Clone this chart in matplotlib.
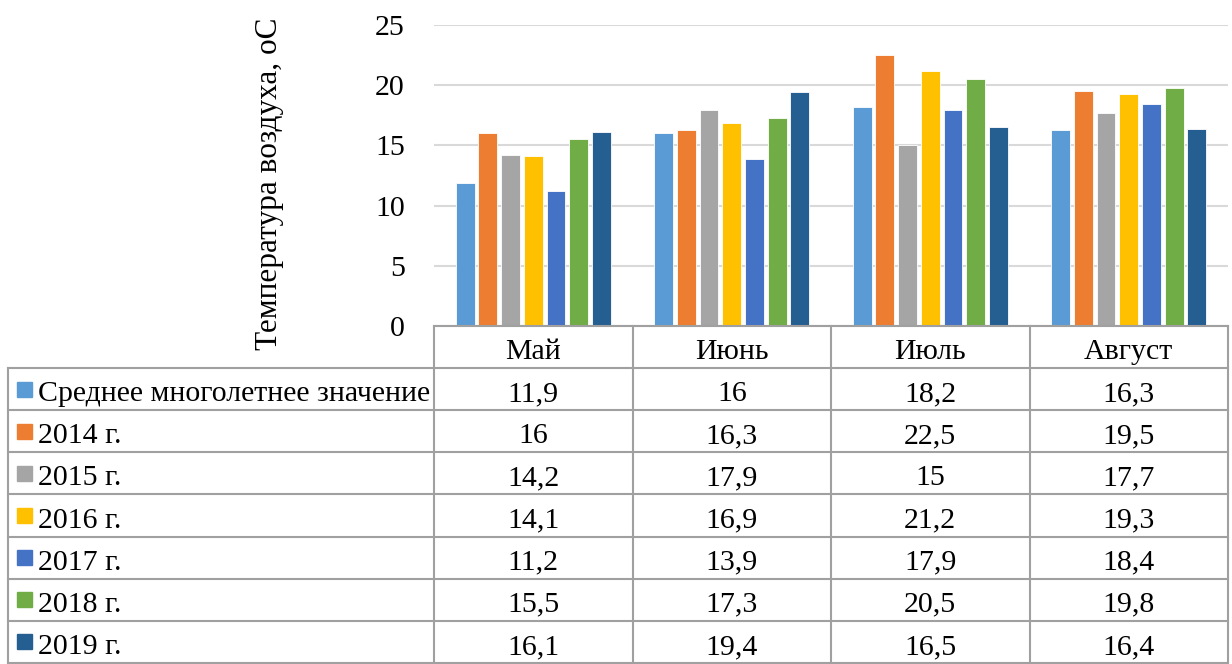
import numpy as np
import matplotlib.pyplot as plt
from matplotlib.patches import Rectangle

plt.rcParams['font.family'] = ['Liberation Serif', 'DejaVu Serif']

months = ['Май', 'Июнь', 'Июль', 'Август']
series = ['Среднее многолетнее значение', '2014 г.', '2015 г.', '2016 г.',
          '2017 г.', '2018 г.', '2019 г.']
avg = [11.9, 16, 18.2, 16.3]
y2014 = [16, 16.3, 22.5, 19.5]
y2015 = [14.2, 17.9, 15, 17.7]
y2016 = [14.1, 16.9, 21.2, 19.3]
y2017 = [11.2, 13.9, 17.9, 18.4]
y2018 = [15.5, 17.3, 20.5, 19.8]
y2019 = [16.1, 19.4, 16.5, 16.4]
values = [avg, y2014, y2015, y2016, y2017, y2018, y2019]
colors = ['#5B9BD5', '#ED7D31', '#A5A5A5', '#FFC000', '#4472C4', '#70AD47', '#255E91']

W, H = 1232, 664
fig = plt.figure(figsize=(W / 100, H / 100), dpi=100)

# plot area in pixels
x0, x1 = 434, 1228
y_top, y_zero = 25, 326
ax = fig.add_axes([x0 / W, 1 - y_zero / H, (x1 - x0) / W, (y_zero - y_top) / H])

x = np.arange(len(months))
slot = 0.8 / len(series)
for i, (vals, c) in enumerate(zip(values, colors)):
    ax.bar(x - 0.4 + slot * (i + 0.5), vals, width=slot * 0.83, color=c,
           edgecolor='white', linewidth=0.6, zorder=3)

ax.set_xlim(-0.5, len(months) - 0.5)
ax.set_ylim(0, 25)
ax.set_yticks(range(0, 26, 5))
ax.yaxis.grid(True, color='#d9d9d9', linewidth=1.5, zorder=0)
ax.set_xticks([])
for s in ax.spines.values():
    s.set_visible(False)
ax.tick_params(axis='y', length=0, labelsize=21.5, pad=21)

fig.text(270 / W, 1 - 184 / H, 'Температура воздуха, оС', rotation=90,
         ha='center', va='center', fontsize=22.5)

# data table drawn in pixel coordinates
tb = fig.add_axes([0, 0, 1, 1])
tb.set_xlim(0, W)
tb.set_ylim(H, 0)
tb.axis('off')
tb.patch.set_alpha(0)

lc = '#a0a0a0'
lw = 1.5
col_w = (x1 - x0) / len(months)
row_top = 368
row_h = (H - 1 - row_top) / len(series)
left = 8

# header row
tb.plot([x0, x1], [y_zero, y_zero], color=lc, lw=lw)
for j in range(len(months) + 1):
    tb.plot([x0 + j * col_w] * 2, [y_zero, H], color=lc, lw=lw)
for j, m in enumerate(months):
    tb.text(x0 + (j + 0.5) * col_w, (y_zero + row_top) / 2 + 2, m,
            ha='center', va='center_baseline', fontsize=21.5)

for k in range(len(series) + 1):
    tb.plot([left, x1], [row_top + k * row_h] * 2, color=lc, lw=lw)
tb.plot([left, left], [row_top, H], color=lc, lw=lw)

for k, (name, vals, c) in enumerate(zip(series, values, colors)):
    yc = row_top + (k + 0.5) * row_h
    tb.add_patch(Rectangle((17, yc - 7.5), 15, 15, color=c))
    tb.text(38, yc + 2, name, ha='left', va='center_baseline', fontsize=21.5)
    for j, v in enumerate(vals):
        txt = ('%g' % v).replace('.', ',')
        tb.text(x0 + (j + 0.5) * col_w, yc + 2, txt, ha='center',
                va='center_baseline', fontsize=21.5)

fig.savefig('out.png', dpi=100)
